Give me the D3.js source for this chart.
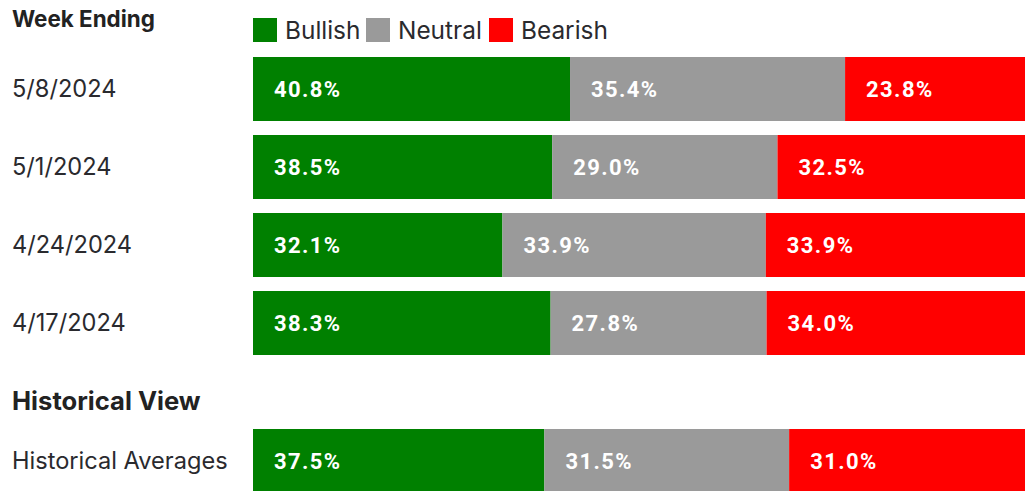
<!DOCTYPE html>
<html>
<head>
<meta charset="utf-8">
<script src="https://cdn.jsdelivr.net/npm/d3@7"></script>
<style>
  body { margin: 0; background: #fff; }
  svg { display: block; }
  text { font-family: Inter, Roboto, sans-serif; }
</style>
</head>
<body>
<div id="chart"></div>
<script>
// weekly rows, newest first
var weeks = ["5/8/2024", "5/1/2024", "4/24/2024", "4/17/2024"];
var bullish = [40.8, 38.5, 32.1, 38.3];
var neutral = [35.4, 29.0, 33.9, 27.8];
var bearish = [23.8, 32.5, 33.9, 34.0];

var histLabels = ["Historical Averages"];
var histBullish = [37.5];
var histNeutral = [31.5];
var histBearish = [31.0];

var keys = ["Bullish", "Neutral", "Bearish"];
var colors = ["#008000", "#9a9a9a", "#ff0000"];

var width = 1025, height = 491;

var svg = d3.select("#chart").append("svg")
  .attr("width", width)
  .attr("height", height);

var x = d3.scaleLinear().domain([0, 100]).range([253, 1030]);
var color = d3.scaleOrdinal().domain(keys).range(colors);

// bars 64px tall, 78px apart
var yWeek = d3.scaleBand()
  .domain(weeks)
  .range([57, 355])
  .paddingInner(14 / 78)
  .paddingOuter(0);

var yHist = d3.scaleBand()
  .domain(histLabels)
  .range([429, 493])
  .padding(0);

function rowsOf(labels, b, n, r) {
  return labels.map(function(l, i) {
    return { label: l, Bullish: b[i], Neutral: n[i], Bearish: r[i] };
  });
}

var stack = d3.stack().keys(keys);

function drawBlock(rows, y) {
  var g = svg.append("g");
  var series = stack(rows);

  var layer = g.selectAll(".layer")
    .data(series)
    .enter().append("g")
    .attr("class", "layer")
    .attr("fill", function(d) { return color(d.key); });

  layer.selectAll("rect")
    .data(function(d) { return d; })
    .enter().append("rect")
    .attr("x", function(d) { return x(d[0]); })
    .attr("y", function(d) { return y(d.data.label); })
    .attr("width", function(d) { return x(d[1]) - x(d[0]); })
    .attr("height", y.bandwidth());

  layer.selectAll(".val")
    .data(function(d) { return d; })
    .enter().append("text")
    .attr("class", "val")
    .attr("x", function(d) { return x(d[0]) + 21; })
    .attr("y", function(d) { return y(d.data.label) + y.bandwidth() / 2; })
    .attr("dy", "0.36em")
    .attr("fill", "#fff")
    .style("font-family", "Roboto, sans-serif")
    .style("font-size", "22px")
    .style("font-weight", "700")
    .style("letter-spacing", "1.4px")
    .text(function(d) { return (d[1] - d[0]).toFixed(1) + "%"; });

  g.selectAll(".rowlabel")
    .data(rows)
    .enter().append("text")
    .attr("class", "rowlabel")
    .attr("x", 12)
    .attr("y", function(d) { return y(d.label) + y.bandwidth() / 2; })
    .attr("dy", "0.36em")
    .attr("fill", "#2a2a2e")
    .style("font-size", "23.6px")
    .text(function(d) { return d.label; });
}

drawBlock(rowsOf(weeks, bullish, neutral, bearish), yWeek);
drawBlock(rowsOf(histLabels, histBullish, histNeutral, histBearish), yHist);

// headings
svg.append("text")
  .attr("x", 12).attr("y", 27)
  .attr("fill", "#222")
  .style("font-size", "22.4px").style("font-weight", "700")
  .text("Week Ending");

svg.append("text")
  .attr("x", 12).attr("y", 410)
  .attr("fill", "#222")
  .style("font-size", "25.6px").style("font-weight", "700")
  .text("Historical View");

// legend
var legendX = [253, 366, 489];
var legend = svg.selectAll(".legend")
  .data(keys)
  .enter().append("g")
  .attr("class", "legend")
  .attr("transform", function(d, i) { return "translate(" + legendX[i] + ",18)"; });

legend.append("rect")
  .attr("width", 24).attr("height", 24)
  .attr("fill", function(d) { return color(d); });

legend.append("text")
  .attr("x", 32).attr("y", 12)
  .attr("dy", "0.36em")
  .attr("fill", "#2a2a2e")
  .style("font-size", "24.4px")
  .text(function(d) { return d; });
</script>
</body>
</html>
